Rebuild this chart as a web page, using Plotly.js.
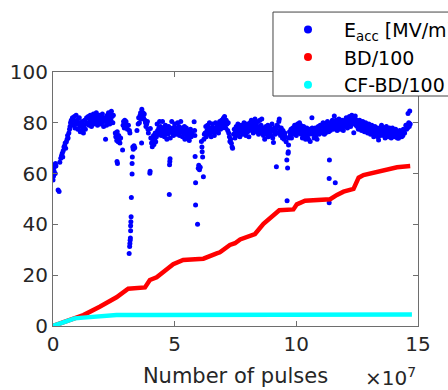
<!DOCTYPE html>
<html>
<head>
<meta charset="utf-8">
<script src="https://cdn.plot.ly/plotly-3.0.1.min.js"></script>
<style>html,body{margin:0;padding:0;background:#fff;}#chart{width:448px;height:390px;}</style>
</head>
<body>
<div id="chart"></div>
<script>
// x values in units of 1e7 pulses
const eaccX = [
0.00,0.02,0.04,0.05,0.07,0.09,0.10,0.12,0.21,0.25,0.28,0.32,0.35,0.38,0.40,0.42,0.45,0.48,0.50,0.52,0.55,0.58,0.60,0.62,0.65,0.68,0.70,0.72,0.75,0.78,0.80,
0.82,0.85,0.88,0.90,0.92,0.95,0.97,1.00,1.02,1.05,1.08,
1.10,1.12,1.15,1.18,1.20,1.23,1.25,1.28,1.30,1.33,1.36,1.38,
1.42,1.45,1.48,1.50,1.53,1.55,1.58,1.60,1.63,1.66,1.68,1.70,1.73,1.76,1.78,1.80,1.83,1.86,1.88,1.90,1.93,1.96,1.98,2.00,2.03,2.06,2.08,2.10,2.13,2.16,2.18,2.20,2.23,2.26,2.28,2.30,2.33,2.36,2.38,2.40,2.43,2.46,2.48,
2.56,2.58,2.60,2.62,2.64,2.66,2.68,2.70,2.73,2.75,2.78,2.86,2.63,2.65,2.88,2.90,2.93,2.95,2.98,3.00,3.03,3.06,3.10,3.14,3.16,
3.13,3.15,3.16,3.17,3.18,3.19,3.19,3.20,3.21,3.22,3.25,3.25,3.26,3.28,3.30,3.33,3.36,
3.45,3.50,3.52,3.55,3.58,3.60,3.62,3.65,3.68,3.70,3.72,3.75,3.78,3.80,3.82,3.85,3.64,3.88,3.90,3.92,
3.98,3.99,4.00,4.02,4.05,4.08,4.10,4.13,4.15,4.18,4.20,4.22,4.25,
4.28,4.30,4.33,4.35,4.38,4.40,4.42,4.45,4.48,4.50,4.52,4.55,4.58,4.60,4.62,4.65,4.68,4.70,4.72,4.75,4.78,4.80,4.81,4.79,4.78,4.82,4.85,4.88,4.90,4.92,4.95,4.98,5.00,5.02,5.05,5.08,5.10,5.12,5.15,5.18,5.20,5.22,5.25,5.28,5.30,5.32,5.35,5.38,5.40,5.42,5.45,5.48,5.50,5.52,5.55,5.58,5.60,5.62,5.65,5.68,5.70,
5.80,5.82,5.83,5.84,5.86,5.86,5.94,5.97,5.99,6.02,6.05,6.10,6.12,6.13,6.15,6.18,6.20,6.22,
6.25,6.28,6.30,6.33,6.35,6.38,6.40,6.43,6.45,6.48,6.50,6.53,6.55,6.58,6.60,6.63,6.65,6.68,6.70,6.73,6.75,6.78,6.80,6.83,6.85,6.88,6.90,6.93,6.95,6.98,7.00,7.02,7.05,7.08,7.10,7.12,7.15,7.18,7.20,7.22,7.25,7.27,7.30,7.33,7.36,7.38,
7.42,7.45,7.48,7.50,7.53,7.55,7.58,7.60,7.63,7.65,7.68,7.70,7.73,7.76,7.78,7.80,7.83,7.85,7.88,7.90,7.93,7.95,7.98,8.00,8.03,8.05,8.08,8.10,8.13,8.15,8.18,8.20,8.23,8.25,8.28,8.30,8.33,8.35,8.38,8.40,8.43,8.45,8.48,8.50,8.53,8.55,8.58,8.60,8.63,8.65,8.68,8.70,8.73,8.75,8.78,8.80,8.83,8.85,8.88,8.90,8.93,8.95,8.98,9.00,9.03,9.06,9.08,9.10,9.13,9.15,9.18,9.20,9.23,9.25,9.28,9.30,9.33,9.35,9.38,9.40,9.43,9.45,9.48,9.50,9.53,9.55,9.58,9.61,9.62,9.64,9.66,9.67,9.68,9.70,9.72,9.75,9.78,9.80,9.83,9.85,9.88,9.90,9.93,9.95,9.98,10.00,10.03,10.05,10.08,10.10,10.13,10.15,10.18,10.20,10.23,10.25,10.28,10.30,10.33,10.35,10.38,10.40,10.43,10.45,10.48,10.50,10.53,10.55,10.57,10.60,10.64,10.65,10.68,10.70,10.73,10.75,10.78,10.80,10.83,10.85,10.88,10.90,10.93,10.95,10.98,
11.00,11.03,11.05,11.08,11.10,11.13,11.15,11.18,11.20,11.23,11.25,11.28,11.30,11.33,11.36,11.35,11.35,11.60,11.38,11.40,11.43,11.45,11.48,11.50,11.53,11.56,11.58,11.60,11.63,11.65,11.68,11.70,11.73,11.75,11.78,11.80,11.83,11.85,11.88,11.90,11.93,11.95,11.98,12.00,12.03,12.05,12.08,12.10,12.13,12.15,12.18,12.20,12.23,12.25,12.28,12.30,12.33,12.36,12.38,12.40,12.42,12.45,12.48,12.50,12.53,12.55,12.58,12.60,12.63,12.65,12.68,12.70,12.73,12.75,12.78,12.80,12.83,12.85,12.88,12.90,12.93,12.95,12.98,13.00,13.03,13.05,13.08,13.10,13.13,13.15,13.18,13.20,13.23,13.25,13.28,13.30,13.33,13.35,13.38,13.40,13.43,13.45,13.48,13.50,13.53,13.55,13.58,13.60,13.63,13.65,13.68,13.70,13.73,13.75,13.78,13.80,13.83,13.85,13.88,13.90,13.93,13.95,13.98,14.00,14.03,14.05,14.08,14.10,14.13,14.15,14.18,14.20,14.23,14.25,14.28,14.30,14.33,14.35,14.38,14.40,14.45,14.50,14.53,14.55,14.57,14.59,14.62,14.64,14.66,14.68
];
const eaccY = [
57.5,59,61,62.5,63.5,60,64,63,53.5,53,64.5,66,67,68,66.5,69,70.5,71,72,70,72.5,73.5,75,74,76,77.5,78.5,80,81,79.5,82,
81.5,79,82.5,78,80.5,83,79.5,81,77.5,80,82,
78.5,76.5,79.5,77,80.5,78,76,79,81,77.5,79.5,82,
80,82.5,79,81.5,83,80,78.5,82,80.5,83.5,79.5,81,82.5,80,84,81.5,79,82,80.5,83,81,79.5,82.5,80,83.5,81,78.5,82,80.5,73.5,81.5,79,83,80.5,84,82,79.5,83.5,81,84.5,82.5,80,83,
76,74.5,75.5,73,76.5,74,72.5,75,73.5,72,74,69.3,64.8,64,79,80.5,78,81,79.5,80.5,78.5,77.5,79,77,76,
28.5,31.3,32.5,33.8,34.6,37.5,39.5,41,43,50.6,59.8,64,66.5,70.5,69.6,71,70.2,
77,79.5,82,80,83,84,81.5,85.3,83,84,82,83.5,81,80,78.5,79.5,72,80.5,77.5,76,
60.1,60.9,77.8,74,72,70.6,73,75,71.5,73.5,76,72.5,74.5,
79.5,77,75.5,78,80.5,76.5,78.5,75,77.5,80.5,76,78,74.5,77,79,76,73.5,77.5,75.5,78.5,76.5,64.8,65.8,63.5,51.8,74,77.5,80.5,76,78,75,77.5,79.5,76.5,78,75.5,77,80,76,78.5,75,77.5,80.5,76.5,78,74.5,77,75.5,78.5,73.5,76.5,78,75,77,74,76.5,73,75.5,77.5,74.5,76,
80.4,77,75,66.7,56.4,47.6,40.1,62.1,63.3,61.5,62.5,72.6,70.5,68.6,66.5,58.8,73.5,75.5,
76,78.5,74.5,77,79,75.5,77.5,80,76,78,74.5,77,79.5,76.5,78,75,77.5,80,76.5,78.5,77,79.5,76,78,80.5,77.5,79,81,78,80,81.8,79,82.5,80,78,81,79.5,77,80,76,74.5,72.6,73.5,71.9,70.5,70,
75.5,77.5,74,76.5,78.5,75,77,79.5,76,78,74.5,77,79,76.5,78,75.5,77.5,80,76,78.5,75,77,79.5,76.5,78,74.5,77,80,78.5,81,77.5,79,76,80.5,78,81.5,77,79.5,76.5,78,80.5,75.5,78.5,81,77,79,81.5,76,78,75,77.5,73.5,76.5,78.5,75.5,77,79,74.5,77.5,76,78,75,77,79.5,74,72.2,76.5,78,75.5,77.5,62.7,79,76,78.5,80.5,81.5,77,75,78,76.5,74,77,75.5,73.5,76,74.5,72.5,65.4,49.3,62.2,68,68.6,71.3,74,76.5,75,77.5,74,76,78,75.5,77,79,76,78.5,75,77.5,79.5,76,78,80,77,79,75.5,77.5,74,76.5,78.5,75,77,73.5,76,78,74.5,77,73.5,75.5,77.5,72.6,76,82,78,75.5,77,74,76.5,78,75,77.5,73.5,76,78.5,75.5,77.5,79,
77,79,76,78.5,80,77,75.5,78,76,79.5,77.5,80.5,78,76.5,65.4,58.1,48.5,56.4,79,77,80,78,81,79,77.5,82.7,80,78,81,79.5,77,80.5,78.5,81.5,79,77.5,80,78,81,79.5,77,80.5,78.5,81,79,82,80,78,81.5,79.5,82.5,80.5,78.5,81,83,79.5,81.5,76.1,80,82,82.7,79,81,78.5,80.5,77.5,79.5,81,78,80,77,79,80.5,77.5,79,76.5,78.5,80,77,79,76,78,79.5,76.5,78,75.5,77.5,79,76,78,74.5,77,78.5,75.5,77.5,76,78,74.5,73.2,76.5,78,75,77,79,76,77.5,75,78,76.5,74,77,78.5,75.5,77,74.5,76.5,78,75,77,74,76.5,78,75.5,77,74.5,76,77.5,75,76.5,74,76,73.9,75.5,77,75,76.5,74.5,76,75,77.5,76,79,77.5,79.1,78,83.7,80,78.5,84.6,79.5
];
const bdX = [0,0.5,0.89,1.25,1.92,2.61,3.09,3.5,3.78,3.98,4.26,4.73,4.94,5.35,5.8,6.18,6.73,6.86,7.27,7.48,7.69,8.3,8.65,9.06,9.3,9.88,10.02,10.36,10.98,11.39,11.67,11.94,12.35,12.56,12.76,13.45,13.86,14.14,14.68];
const bdY = [0,1.8,3.4,4.3,7.6,11.3,14.7,15.0,15.2,18.1,19.2,22.7,24.3,26.0,26.3,26.5,28.6,29.0,31.9,32.6,34.1,36.2,40.2,43.7,45.6,45.9,47.9,49.3,49.6,49.9,51.6,52.9,54.0,58.4,59.4,60.9,62.1,62.5,63.0];
const cfX = [0,0.45,0.89,1.25,2.0,2.61,4.0,6.0,8.1,10.0,12.0,14.75];
const cfY = [0,1.6,3.0,3.3,3.9,4.3,4.3,4.35,4.4,4.45,4.5,4.55];
const seriesNames = ['E<sub>acc</sub> [MV/m]', 'BD/100', 'CF-BD/100'];
const seriesColors = ['#0000ff', '#ff0000', '#00ffff'];
const xTicks = [0,5,10,15];
const yTicks = [0,20,40,60,80,100];

const axisColor = '#6e6e6e';
const txtColor = '#262626';
const tickFont = {family: 'DejaVu Sans', size: 20, color: txtColor};

const traces = [
  {x: eaccX, y: eaccY, type: 'scatter', mode: 'markers', showlegend: false,
   marker: {color: seriesColors[0], size: 5}},
  {x: bdX, y: bdY, type: 'scatter', mode: 'lines', showlegend: false,
   line: {color: seriesColors[1], width: 4.5}},
  {x: cfX, y: cfY, type: 'scatter', mode: 'lines', showlegend: false,
   line: {color: seriesColors[2], width: 4.5}}
];
// legend entries (no data of their own)
seriesNames.forEach((n, i) => {
  traces.push({x: [null], y: [null], type: 'scatter', mode: 'markers', name: '\u00a0' + n,
    marker: {color: seriesColors[i], size: 8}, showlegend: true});
});

const layout = {
  width: 448, height: 390,
  margin: {l: 53, r: 30, t: 72, b: 64, autoexpand: false},
  paper_bgcolor: '#fff', plot_bgcolor: '#fff',
  showlegend: true,
  xaxis: {
    range: [0, 15], tickvals: xTicks, ticktext: xTicks.map(String),
    showgrid: false, zeroline: false, showline: true, linecolor: axisColor, linewidth: 1,
    mirror: 'ticks', ticks: 'inside', ticklen: 5, tickcolor: axisColor, tickwidth: 1,
    tickfont: tickFont,
    title: {text: 'Number of pulses', font: {family: 'DejaVu Sans', size: 21, color: txtColor}, standoff: 13}
  },
  yaxis: {
    range: [0, 100], tickvals: yTicks, ticktext: yTicks.map(String),
    showgrid: false, zeroline: false, showline: true, linecolor: axisColor, linewidth: 1,
    mirror: 'ticks', ticks: 'inside', ticklen: 5, tickcolor: axisColor, tickwidth: 1,
    tickfont: tickFont
  },
  legend: {
    x: 0.6164, y: 1.242, xanchor: 'left', yanchor: 'top',
    bgcolor: 'rgba(0,0,0,0)', borderwidth: 0, itemwidth: 50,
    font: {family: 'DejaVu Sans', size: 19, color: '#000'},
    tracegroupgap: 0
  },
  shapes: [
    {type: 'rect', xref: 'paper', yref: 'paper', x0: 0.6027, x1: 1.2, y0: 0.9055, y1: 1.236,
     fillcolor: '#fff', line: {color: '#444', width: 1}, layer: 'above'}
  ],
  annotations: [
    {xref: 'paper', yref: 'paper', x: 1.0, y: -0.2, xanchor: 'right', yanchor: 'middle',
     showarrow: false, text: '\u00d710<sup>7</sup>', font: {family: 'DejaVu Sans', size: 20, color: txtColor}}
  ]
};

Plotly.newPlot('chart', traces, layout, {staticPlot: true, displayModeBar: false});
</script>
</body>
</html>
